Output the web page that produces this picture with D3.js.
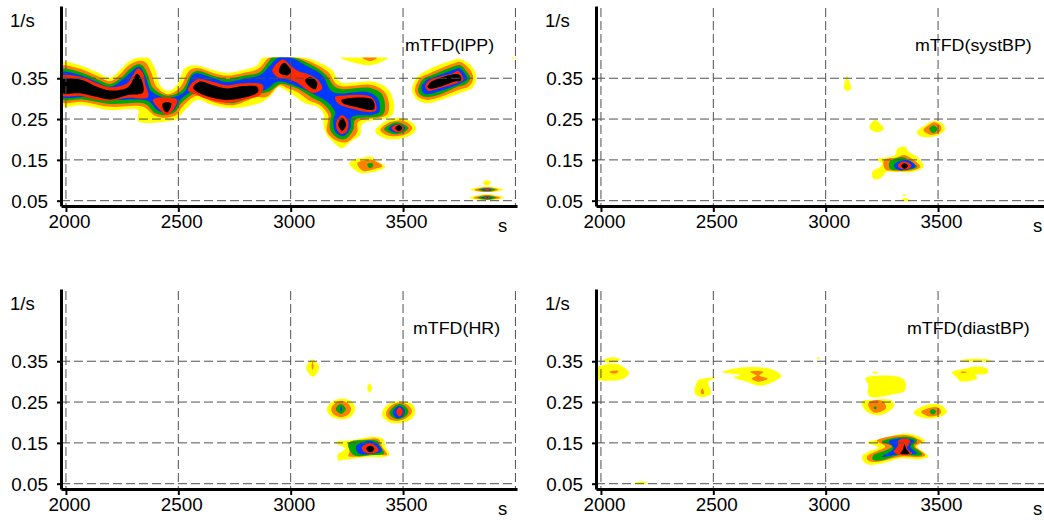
<!DOCTYPE html>
<html>
<head>
<meta charset="utf-8">
<script src="https://d3js.org/d3.v7.min.js"></script>
<style>
  body { margin: 0; background: #fff; }
  text { font-family: "Liberation Sans", Arial, sans-serif; fill: #000; }
</style>
</head>
<body>
<script>
// contour outlines as [time s, frequency 1/s]
const ippYellow = [
  [[1978,.388],[2062,.382],[2138,.365],[2196,.351],[2241,.370],[2276,.390],[2321,.401],[2365,.400],[2396,.375],[2419,.333],[2454,.319],[2494,.333],[2530,.375],[2575,.382],[2655,.370],[2717,.363],[2788,.370],[2851,.382],[2877,.401],[3056,.401],[3122,.390],[3185,.370],[3220,.341],[3376,.341],[3443,.316],[3452,.260],[3318,.238],[3309,.211],[3265,.194],[3229,.179],[3198,.189],[3154,.218],[3145,.248],[3149,.260],[3118,.280],[3064,.289],[3011,.309],[2966,.324],[2944,.329],[2918,.311],[2873,.292],[2744,.277],[2655,.284],[2583,.297],[2530,.272],[2494,.250],[2463,.245],[2321,.245],[2321,.272],[2196,.272],[2076,.284],[1978,.284]],
  [[3541,.329],[3563,.353],[3608,.370],[3724,.395],[3755,.397],[3808,.378],[3826,.351],[3808,.326],[3755,.314],[3666,.297],[3608,.289],[3563,.297],[3541,.316]],
  [[3376,.221],[3408,.240],[3465,.253],[3523,.248],[3559,.228],[3541,.213],[3474,.201],[3412,.204]],
  [[3260,.142],[3332,.157],[3363,.157],[3376,.150],[3421,.133],[3385,.123],[3309,.118],[3287,.125]],
  [[3220,.401],[3434,.401],[3354,.382]],
  [[3982,.401],[4000,.401],[3992,.397]],
  [[3855,.095],[3873,.100],[3891,.095],[3873,.086]],
  [[3799,.077],[3875,.084],[3946,.077],[3875,.071]],
  [[3795,.057],[3875,.066],[3951,.057],[3875,.051]]
];
const ippOrange = [
  [[1978,.379],[2062,.373],[2138,.356],[2196,.343],[2241,.360],[2276,.380],[2321,.392],[2352,.390],[2379,.365],[2401,.331],[2454,.311],[2508,.328],[2548,.368],[2583,.375],[2655,.363],[2717,.356],[2788,.363],[2855,.373],[2891,.395],[2904,.401],[3029,.401],[3109,.385],[3167,.365],[3211,.333],[3367,.333],[3425,.311],[3430,.262],[3300,.243],[3296,.218],[3252,.194],[3207,.196],[3162,.218],[3167,.250],[3167,.260],[3131,.284],[3078,.297],[3029,.316],[2984,.326],[2953,.333],[2891,.304],[2851,.304],[2744,.284],[2655,.292],[2583,.307],[2521,.282],[2490,.260],[2445,.253],[2396,.258],[2343,.280],[2196,.280],[2076,.292],[1978,.293]],
  [[3554,.326],[3577,.351],[3621,.363],[3724,.386],[3755,.390],[3795,.373],[3812,.351],[3795,.331],[3746,.321],[3666,.304],[3608,.297],[3568,.304],[3554,.316]],
  [[3399,.223],[3425,.238],[3470,.246],[3514,.243],[3541,.228],[3523,.216],[3474,.208],[3425,.211]],
  [[3296,.142],[3341,.150],[3363,.150],[3408,.135],[3376,.128],[3323,.123]],
  [[3318,.401],[3385,.401],[3354,.392]],
  [[3817,.077],[3875,.083],[3924,.077],[3875,.071]],
  [[3813,.057],[3875,.064],[3933,.057],[3875,.052]]
];
const ippGreen = [
  [[1978,.371],[2062,.365],[2138,.348],[2196,.336],[2250,.353],[2285,.373],[2321,.384],[2343,.380],[2365,.358],[2388,.326],[2454,.307],[2517,.321],[2557,.360],[2583,.368],[2655,.356],[2717,.348],[2788,.356],[2860,.364],[2900,.390],[2918,.401],[3011,.401],[3096,.382],[3154,.360],[3207,.326],[3354,.326],[3408,.309],[3412,.262],[3287,.248],[3278,.223],[3243,.201],[3207,.204],[3176,.223],[3176,.248],[3180,.262],[3145,.287],[3096,.302],[3033,.324],[2989,.333],[2953,.336],[2900,.316],[2851,.311],[2744,.289],[2655,.300],[2583,.314],[2512,.289],[2485,.267],[2445,.260],[2396,.265],[2352,.287],[2196,.287],[2076,.298],[1978,.300]],
  [[3568,.326],[3590,.348],[3630,.358],[3724,.379],[3755,.382],[3781,.368],[3799,.351],[3781,.336],[3741,.329],[3666,.311],[3608,.304],[3577,.309],[3568,.316]],
  [[3416,.225],[3443,.237],[3474,.242],[3510,.235],[3523,.228],[3505,.218],[3474,.213],[3439,.216]],
  [[3341,.140],[3363,.142],[3367,.135],[3350,.130]],
  [[3835,.077],[3875,.081],[3911,.077],[3875,.073]],
  [[3831,.057],[3875,.062],[3915,.057],[3875,.0525]]
];
const ippBlue = [
  [[1978,.364],[2062,.358],[2138,.341],[2196,.329],[2250,.346],[2294,.368],[2321,.378],[2334,.375],[2356,.351],[2379,.319],[2454,.302],[2526,.316],[2561,.356],[2583,.362],[2655,.350],[2717,.341],[2788,.348],[2864,.358],[2909,.382],[2944,.401],[2998,.401],[3078,.378],[3140,.358],[3189,.316],[3345,.316],[3390,.299],[3394,.267],[3363,.260],[3274,.255],[3265,.226],[3234,.208],[3198,.218],[3189,.248],[3198,.267],[3162,.292],[3109,.309],[3033,.329],[2989,.338],[2940,.341],[2886,.321],[2851,.319],[2744,.297],[2655,.307],[2583,.321],[2508,.297],[2481,.272],[2445,.265],[2405,.272],[2365,.294],[2196,.297],[2076,.304],[1978,.305]],
  [[3581,.326],[3599,.343],[3639,.353],[3724,.371],[3750,.375],[3773,.363],[3786,.348],[3768,.341],[3737,.333],[3666,.319],[3608,.311],[3590,.314]],
  [[3434,.227],[3474,.238],[3510,.228],[3474,.216]],
  [[3848,.077],[3875,.080],[3893,.077],[3875,.074]],
  [[3847,.057],[3875,.060],[3898,.057],[3875,.054]]
];
const ippRed = [
  [[1978,.355],[2062,.354],[2138,.338],[2196,.328],[2272,.338],[2298,.358],[2321,.374],[2343,.363],[2352,.338],[2365,.304],[2272,.302],[2196,.294],[2120,.299],[2062,.307],[1978,.309]],
  [[2387,.298],[2494,.298],[2477,.272],[2450,.260],[2419,.272]],
  [[2583,.347],[2655,.341],[2717,.333],[2788,.338],[2877,.333],[2864,.309],[2820,.301],[2717,.290],[2628,.299],[2583,.309],[2543,.321]],
  [[2966,.396],[2998,.382],[3033,.368],[3078,.360],[3122,.346],[3140,.324],[3100,.314],[3064,.324],[3033,.338],[2998,.346],[2940,.353],[2918,.370]],
  [[3198,.304],[3243,.308],[3345,.307],[3372,.297],[3381,.272],[3354,.267],[3274,.275],[3211,.288]],
  [[3229,.260],[3256,.243],[3247,.218],[3225,.213],[3207,.223],[3203,.243]],
  [[3599,.333],[3621,.346],[3724,.363],[3746,.368],[3764,.355],[3768,.346],[3737,.338],[3666,.326],[3612,.319],[3603,.324]],
  [[3448,.228],[3479,.237],[3505,.227],[3479,.217]],
  [[3862,.077],[3875,.079],[3884,.077],[3875,.075]],
  [[3857,.057],[3875,.059],[3889,.057],[3875,.055]]
];
const ippBlack = [
  [[1978,.346],[2071,.346],[2138,.329],[2196,.320],[2276,.328],[2316,.361],[2334,.350],[2343,.315],[2276,.309],[2196,.298],[2129,.305],[2062,.313],[1978,.315]],
  [[2432,.289],[2468,.289],[2463,.275],[2450,.266],[2432,.275]],
  [[2597,.342],[2655,.333],[2717,.325],[2788,.331],[2851,.329],[2855,.317],[2833,.309],[2717,.297],[2628,.306],[2575,.320],[2566,.328]],
  [[2971,.388],[3002,.367],[2984,.357],[2949,.364],[2953,.378]],
  [[3087,.353],[3118,.339],[3109,.323],[3078,.333],[3064,.345]],
  [[3225,.296],[3363,.298],[3372,.275],[3354,.272],[3287,.280],[3234,.288]],
  [[3229,.253],[3247,.236],[3229,.221],[3212,.236]],
  [[3612,.333],[3630,.343],[3746,.360],[3759,.351],[3755,.343],[3732,.342],[3675,.331],[3621,.324],[3608,.329]],
  [[3465,.228],[3483,.235],[3496,.228],[3483,.220]],
  [[3868,.057],[3875,.058],[3880,.057],[3875,.056]]
];

const systYellow = [
  [[3094,.356],[3105,.342],[3113,.325],[3099,.319],[3082,.325],[3088,.346]],
  [[3220,.248],[3243,.238],[3260,.227],[3235,.218],[3206,.222],[3194,.231]],
  [[3406,.219],[3443,.235],[3480,.245],[3517,.240],[3532,.225],[3495,.209],[3451,.205],[3416,.209]],
  [[3225,.151],[3309,.162],[3320,.178],[3354,.182],[3369,.170],[3406,.158],[3435,.133],[3391,.121],[3309,.120],[3272,.121],[3243,.105],[3213,.103],[3208,.121],[3243,.133],[3250,.143]],
  [[3336,.0505],[3354,.057],[3376,.0505]],
  [[3349,.066],[3358,.062],[3341,.062]]
];
const systOrange = [
  [[3435,.223],[3458,.235],[3483,.242],[3510,.234],[3514,.223],[3488,.213],[3458,.213]],
  [[3260,.150],[3316,.156],[3349,.162],[3385,.152],[3421,.133],[3385,.124],[3303,.123],[3265,.127]]
];
const systGreen = [
  [[3461,.226],[3480,.234],[3497,.226],[3480,.215]],
  [[3285,.146],[3347,.156],[3376,.147],[3406,.133],[3369,.125],[3309,.125],[3285,.129]]
];
const systBlue = [[[3303,.137],[3347,.150],[3385,.144],[3399,.133],[3369,.127],[3325,.125]]];
const systRed = [[[3320,.137],[3349,.146],[3381,.137],[3369,.128],[3336,.128]]];
const systBlack = [[[3336,.136],[3351,.142],[3367,.136],[3351,.128]]];

const hrYellow = [
  [[3097,.355],[3117,.345],[3127,.333],[3099,.312],[3069,.333],[3079,.347]],
  [[3351,.296],[3362,.284],[3351,.273],[3341,.284]],
  [[3161,.231],[3183,.251],[3228,.259],[3272,.251],[3287,.231],[3265,.213],[3223,.208],[3183,.214]],
  [[3406,.218],[3421,.239],[3451,.249],[3495,.252],[3540,.245],[3554,.226],[3540,.210],[3488,.199],[3435,.202]],
  [[3195,.151],[3280,.157],[3369,.165],[3413,.159],[3421,.141],[3440,.121],[3413,.115],[3339,.115],[3243,.109],[3213,.107],[3208,.121],[3228,.129],[3243,.137]]
];
const hrOrange = [
  [[3097,.349],[3102,.338],[3097,.329],[3093,.338]],
  [[3180,.232],[3198,.247],[3228,.253],[3257,.245],[3269,.232],[3253,.218],[3225,.213],[3195,.218]],
  [[3424,.221],[3443,.240],[3488,.249],[3525,.241],[3540,.226],[3518,.212],[3480,.204],[3440,.208]],
  [[3257,.150],[3339,.159],[3391,.159],[3406,.141],[3429,.121],[3385,.121],[3296,.116],[3257,.118],[3262,.129]]
];
const hrGreen = [
  [[3200,.233],[3223,.245],[3245,.233],[3225,.221]],
  [[3439,.224],[3461,.240],[3488,.245],[3518,.235],[3523,.224],[3503,.212],[3480,.208],[3451,.213]],
  [[3257,.149],[3347,.157],[3385,.155],[3399,.141],[3416,.124],[3354,.120],[3280,.120]]
];
const hrBlue = [
  [[3225,.240],[3229,.233],[3225,.226],[3220,.233]],
  [[3454,.226],[3480,.240],[3507,.232],[3503,.218],[3480,.210],[3461,.215]],
  [[3291,.142],[3354,.155],[3391,.145],[3406,.130],[3354,.123],[3303,.124]]
];
const hrRed = [
  [[3470,.226],[3484,.237],[3499,.226],[3484,.214]],
  [[3316,.139],[3354,.149],[3385,.139],[3391,.131],[3354,.124],[3325,.128]]
];
const hrBlack = [[[3336,.137],[3354,.143],[3372,.137],[3362,.128],[3347,.128]]];

const diastYellow = [
  [[1980,.333],[2040,.343],[2085,.341],[2125,.321],[2100,.307],[2040,.302],[1980,.308]],
  [[2010,.353],[2055,.360],[2085,.355],[2070,.349],[2025,.347]],
  [[2416,.275],[2433,.304],[2456,.308],[2515,.310],[2478,.300],[2490,.271],[2451,.262],[2419,.270]],
  [[2540,.323],[2604,.333],[2708,.335],[2767,.329],[2802,.314],[2767,.300],[2708,.290],[2649,.300],[2590,.311],[2619,.316]],
  [[2147,.051],[2181,.056],[2211,.051]],
  [[2961,.357],[2968,.360],[2975,.357],[2968,.355]],
  [[3176,.308],[3213,.314],[3332,.311],[3354,.300],[3349,.275],[3316,.271],[3243,.263],[3198,.263],[3186,.275],[3190,.292]],
  [[3206,.323],[3220,.325],[3235,.322],[3220,.320]],
  [[3161,.251],[3198,.255],[3296,.253],[3303,.239],[3265,.222],[3220,.218],[3176,.230]],
  [[3391,.224],[3429,.239],[3474,.245],[3518,.241],[3540,.226],[3518,.216],[3474,.210],[3421,.213]],
  [[3562,.323],[3628,.333],[3680,.337],[3722,.330],[3718,.320],[3666,.316],[3674,.308],[3599,.301],[3580,.312]],
  [[3599,.351],[3621,.355],[3718,.355],[3740,.351],[3702,.349],[3628,.349]],
  [[3183,.151],[3243,.159],[3354,.173],[3421,.164],[3443,.153],[3406,.142],[3435,.128],[3458,.116],[3421,.110],[3332,.112],[3235,.098],[3183,.098],[3161,.116],[3190,.128],[3235,.139]]
];
const diastOrange = [
  [[2037,.324],[2077,.327],[2073,.322],[2048,.320]],
  [[2451,.284],[2459,.271],[2451,.269],[2444,.274]],
  [[2664,.324],[2723,.324],[2704,.315],[2741,.308],[2704,.300],[2671,.308],[2693,.315]],
  [[3190,.247],[3220,.255],[3257,.251],[3269,.235],[3220,.224],[3195,.235]],
  [[3425,.226],[3465,.236],[3503,.236],[3514,.224],[3488,.216],[3451,.216]],
  [[3599,.323],[3614,.325],[3628,.323],[3614,.321]],
  [[3228,.155],[3354,.169],[3413,.159],[3429,.153],[3399,.142],[3429,.128],[3443,.119],[3413,.115],[3332,.116],[3235,.104],[3190,.106],[3183,.116],[3220,.128],[3265,.141]]
];
const diastGreen = [
  [[3220,.240],[3228,.236],[3220,.232],[3213,.236]],
  [[3462,.226],[3477,.233],[3492,.226],[3477,.219]],
  [[3250,.153],[3354,.165],[3406,.157],[3391,.142],[3421,.128],[3429,.120],[3332,.120],[3235,.106],[3208,.110],[3213,.120],[3250,.128],[3296,.142]]
];
const diastBlue = [[[3280,.153],[3354,.161],[3394,.155],[3376,.141],[3406,.124],[3332,.123],[3250,.116],[3303,.137]]];
const diastRed = [[[3325,.157],[3369,.159],[3376,.153],[3362,.137],[3385,.124],[3332,.120],[3303,.128],[3320,.142]]];
const diastBlack = [[[3351,.147],[3357,.137],[3373,.124],[3332,.124],[3344,.134]]];

const timeTicks = [2000, 2500, 3000, 3500];
const gridTimes = [2000, 2500, 3000, 3500, 4000];
const freqTicks = [0.05, 0.15, 0.25, 0.35];
const bandColors = ['#ffff00', '#ff8000', '#00a800', '#0038ff', '#ff2800', '#000000'];

const panels = [
  { title: 'mTFD(lPP)', bands: [ippYellow, ippOrange, ippGreen, ippBlue, ippRed, ippBlack], left: 61, top: 0, titleX: 405 },
  { title: 'mTFD(systBP)', bands: [systYellow, systOrange, systGreen, systBlue, systRed, systBlack], left: 596, top: 0, titleX: 915 },
  { title: 'mTFD(HR)', bands: [hrYellow, hrOrange, hrGreen, hrBlue, hrRed, hrBlack], left: 61, top: 283, titleX: 413 },
  { title: 'mTFD(diastBP)', bands: [diastYellow, diastOrange, diastGreen, diastBlue, diastRed, diastBlack], left: 596, top: 283, titleX: 907 }
];

const svg = d3.select('body').append('svg')
  .attr('width', 1044)
  .attr('height', 520)
  .style('display', 'block');

// the picture was stretched sideways, text follows that
function stretch(sel, k) {
  sel.each(function () {
    d3.select(this)
      .attr('textLength', this.getComputedTextLength() * k)
      .attr('lengthAdjust', 'spacingAndGlyphs');
  });
}

panels.forEach((p, i) => {
  const x = d3.scaleLinear().domain([1978, 4007]).range([p.left, p.left + 456]);
  const y = d3.scaleLinear().domain([0.037, 0.527]).range([p.top + 206, p.top + 6]);
  const g = svg.append('g');

  svg.append('clipPath').attr('id', 'clip' + i)
    .append('rect')
    .attr('x', x(1978))
    .attr('y', y(0.401))
    .attr('width', x(4000) - x(1978))
    .attr('height', y(0.037) - y(0.401));

  const line = d3.line()
    .x(d => x(d[0]))
    .y(d => y(d[1]))
    .curve(d3.curveCatmullRomClosed.alpha(0.5));

  const bands = g.append('g').attr('clip-path', 'url(#clip' + i + ')');
  p.bands.forEach((polys, level) => {
    bands.selectAll('path.level' + level)
      .data(polys)
      .enter()
      .append('path')
      .attr('class', 'level' + level)
      .attr('fill', bandColors[level])
      .attr('d', line);
  });

  // dashed grid sits over the fill
  g.selectAll('line.vgrid')
    .data(gridTimes)
    .enter()
    .append('line')
    .attr('class', 'vgrid')
    .attr('x1', d => x(d))
    .attr('x2', d => x(d))
    .attr('y1', p.top + 8)
    .attr('y2', p.top + 205)
    .attr('stroke', '#505050')
    .attr('stroke-dasharray', '9,4');
  g.selectAll('line.hgrid')
    .data(freqTicks)
    .enter()
    .append('line')
    .attr('class', 'hgrid')
    .attr('x1', p.left)
    .attr('x2', x(4000))
    .attr('y1', d => y(d))
    .attr('y2', d => y(d))
    .attr('stroke', '#505050')
    .attr('stroke-dasharray', '9,4');

  const xAxis = g.append('g')
    .attr('transform', 'translate(0,' + y(0.037) + ')')
    .call(d3.axisBottom(x).tickValues(timeTicks).tickFormat(d3.format('d')).tickSize(6).tickSizeOuter(0));
  const yAxis = g.append('g')
    .attr('transform', 'translate(' + p.left + ',0)')
    .call(d3.axisLeft(y).tickValues(freqTicks).tickFormat(d3.format('.2f')).tickSize(4).tickSizeOuter(0));

  [xAxis, yAxis].forEach(a => {
    a.select('.domain').attr('stroke-width', 3);
    a.selectAll('.tick line').attr('stroke-width', 2);
    a.selectAll('text').attr('fill', '#000').style('font-size', '18.5px');
  });
  xAxis.selectAll('text').attr('x', 3).attr('y', 9).attr('dy', '0.71em').call(stretch, 1.02);
  yAxis.selectAll('text').attr('x', -13).attr('dy', '0.36em').call(stretch, 1.02);

  g.append('text').attr('x', p.left - 51).attr('y', p.top + 27).style('font-size', '18.5px').text('1/s');
  g.append('text').attr('x', p.left + 437).attr('y', p.top + 232).style('font-size', '18.5px').text('s');
  g.append('text').attr('x', p.titleX).attr('y', p.top + 51).style('font-size', '16.5px').text(p.title).call(stretch, 1.08);
});
</script>
</body>
</html>
